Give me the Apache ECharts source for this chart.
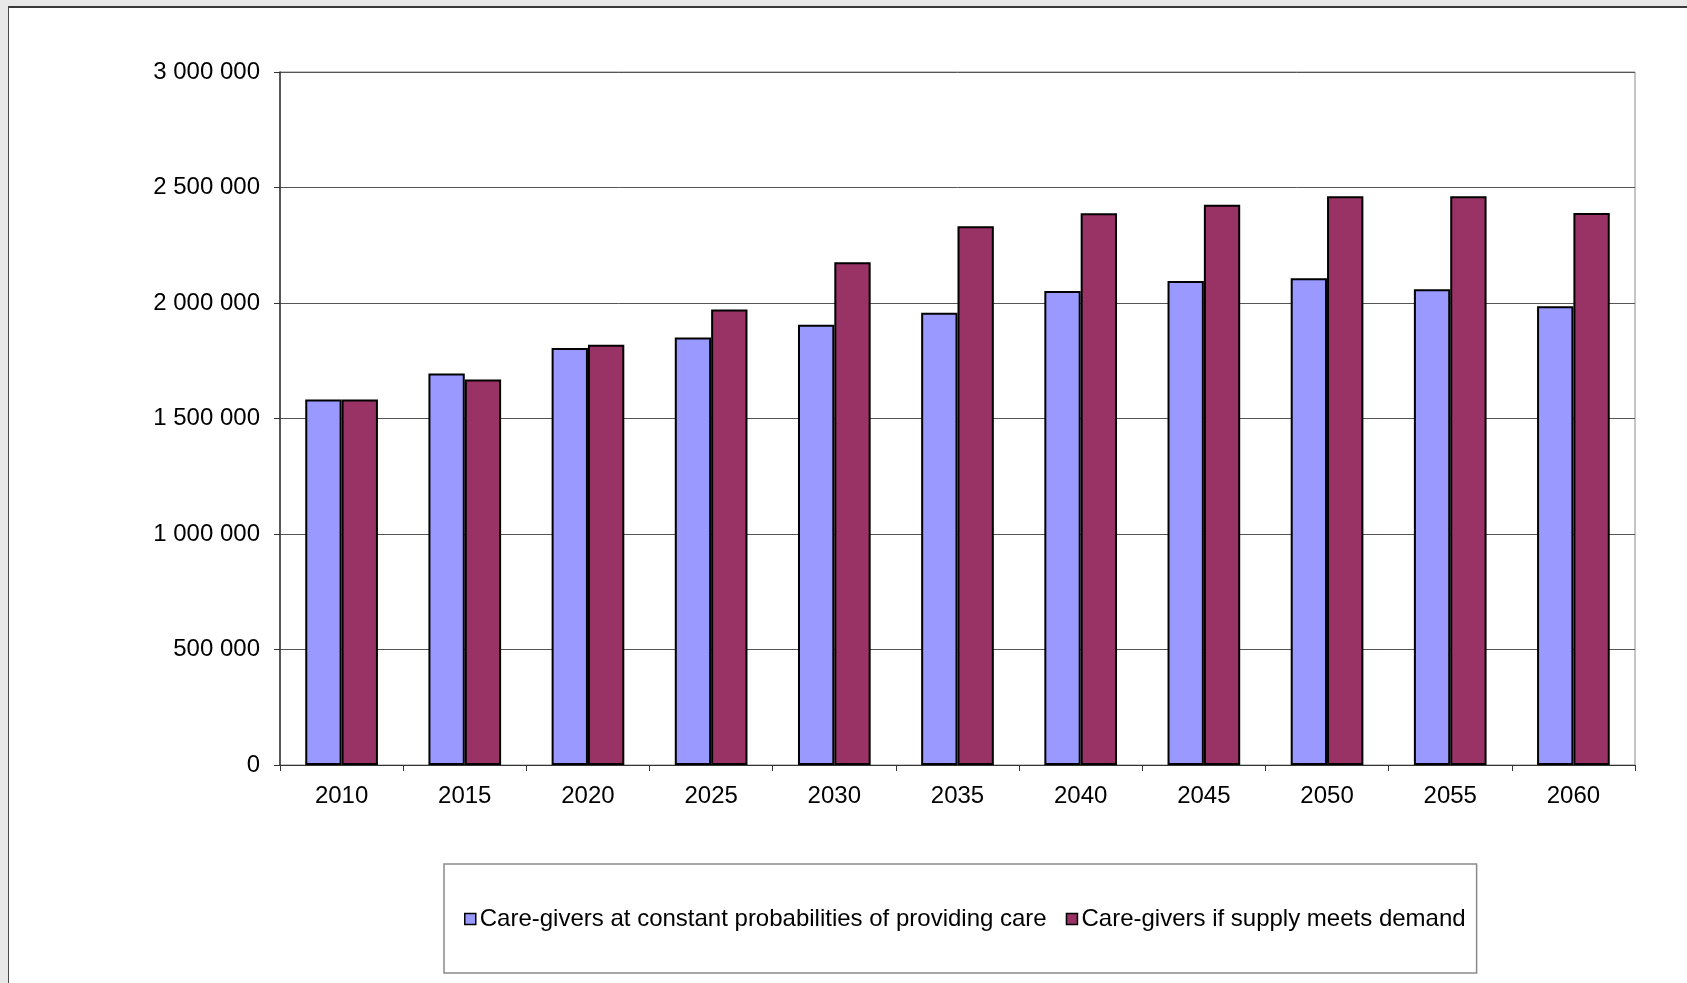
<!DOCTYPE html>
<html>
<head>
<meta charset="utf-8">
<script src="https://cdn.jsdelivr.net/npm/echarts@6/dist/echarts.min.js"></script>
<style>
  html, body { margin: 0; padding: 0; background: #e8e8e8; }
  #sheet {
    position: absolute; left: 8px; top: 6px; width: 1678px; height: 977px;
    background: #ffffff; border-left: 1px solid #4a4a4a; border-top: 2px solid #3a3a3a;
    border-right: 1px solid #d0d0d0;
  }
  #chart { position: absolute; left: 0; top: 0; width: 1687px; height: 983px; }
</style>
</head>
<body>
<div id="sheet"></div>
<div id="chart"></div>
<script>
// Projection years
const years = ['2010', '2015', '2020', '2025', '2030', '2035', '2040', '2045', '2050', '2055', '2060'];

// Number of care-givers, persons
const constantProbabilities = [1582000, 1695000, 1805000, 1851000, 1906000, 1958000, 2052000, 2095000, 2107000, 2059000, 1986000];
const supplyMeetsDemand     = [1582000, 1669000, 1819000, 1972000, 2176000, 2332000, 2389000, 2425000, 2462000, 2462000, 2390000];

const seriesNames = [
  'Care-givers at constant probabilities of providing care',
  'Care-givers if supply meets demand'
];

// Thousands separated by spaces: 2 500 000
function spaced(v) {
  return String(v).replace(/\B(?=(\d{3})+(?!\d))/g, ' ');
}

const font = 'Liberation Sans, Arial, sans-serif';
const chart = echarts.init(document.getElementById('chart'), null, { renderer: 'canvas' });

chart.setOption({
  backgroundColor: 'transparent',
  animation: false,
  grid: {
    left: 280, right: 52, top: 72, bottom: 218,
    show: true, borderColor: '#8a8a8a', borderWidth: 1, backgroundColor: 'transparent'
  },
  legend: {
    left: 444, top: 864,
    orient: 'horizontal',
    padding: [43, 11, 42, 20],
    borderColor: '#8a8a8a', borderWidth: 1.5,
    itemWidth: 11, itemHeight: 11, itemGap: 19,
    icon: 'rect',
    itemStyle: { borderColor: '#000', borderWidth: 1.5 },
    textStyle: { fontFamily: font, fontSize: 24, color: '#000', padding: [0, 0, 0, -1] },
    data: seriesNames
  },
  xAxis: {
    type: 'category',
    data: years,
    boundaryGap: true,
    axisLine: { show: true, lineStyle: { color: '#333', width: 1 } },
    axisTick: { show: true, alignWithLabel: false, length: 6, lineStyle: { color: '#333' } },
    axisLabel: { margin: 19, fontFamily: font, fontSize: 24, color: '#000' },
    splitLine: { show: false }
  },
  yAxis: {
    type: 'value',
    min: 0, max: 3000000, interval: 500000,
    axisLine: { show: true, lineStyle: { color: '#333', width: 1.5 } },
    axisTick: { show: true, length: 6, lineStyle: { color: '#333' } },
    axisLabel: { margin: 20, fontFamily: font, fontSize: 24, color: '#000', formatter: spaced },
    splitLine: { show: true, lineStyle: { color: '#555', width: 1 } }
  },
  series: [
    {
      name: seriesNames[0],
      type: 'bar',
      data: constantProbabilities,
      barGap: '0%',
      barCategoryGap: '41%',
      itemStyle: { color: '#9999ff', borderColor: '#000', borderWidth: 2 }
    },
    {
      name: seriesNames[1],
      type: 'bar',
      data: supplyMeetsDemand,
      barGap: '0%',
      barCategoryGap: '41%',
      itemStyle: { color: '#993366', borderColor: '#000', borderWidth: 2 }
    }
  ]
});
</script>
</body>
</html>
